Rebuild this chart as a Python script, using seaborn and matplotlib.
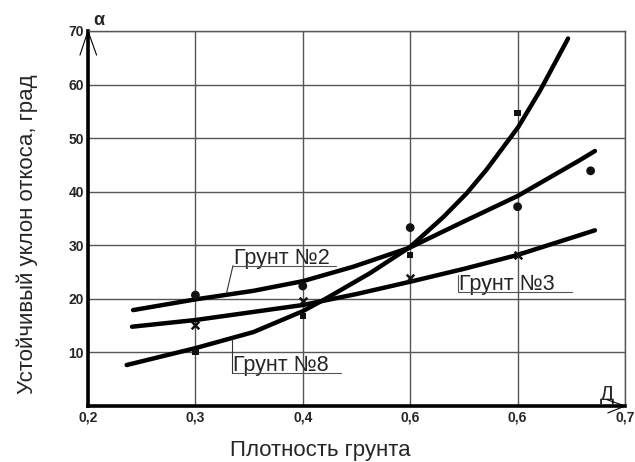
import matplotlib
matplotlib.use("Agg")
import matplotlib.pyplot as plt
import seaborn as sns
import pandas as pd

# Fitted trend curves (density -> stable slope angle, degrees)
gr2_curve_x = [0.242, 0.30, 0.354, 0.40, 0.447, 0.50, 0.5495, 0.60, 0.658, 0.672]
gr2_curve_y = [17.9, 19.9, 21.5, 23.3, 26.0, 29.6, 34.4, 39.2, 45.9, 47.6]
gr3_curve_x = [0.241, 0.30, 0.40, 0.45, 0.50, 0.55, 0.60, 0.658, 0.672]
gr3_curve_y = [14.8, 16.05, 18.85, 20.9, 23.2, 25.6, 28.2, 31.9, 32.8]
gr8_curve_x = [0.236, 0.30, 0.354, 0.40, 0.422, 0.4626, 0.50, 0.531, 0.5526,
               0.571, 0.6007, 0.621, 0.647]
gr8_curve_y = [7.65, 10.8, 13.8, 17.7, 20.1, 24.8, 29.7, 35.3, 39.7,
               44.1, 52.1, 58.9, 68.6]

# Measured points
gr2_pts_x = [0.3, 0.4, 0.5, 0.6, 0.668]
gr2_pts_y = [20.7, 22.4, 33.3, 37.2, 43.9]
gr3_pts_x = [0.3, 0.4, 0.5, 0.6]
gr3_pts_y = [15.1, 19.6, 23.9, 28.2]
gr8_pts_x = [0.3, 0.4, 0.5, 0.6]
gr8_pts_y = [10.1, 16.8, 28.2, 54.7]

x_ticks = [0.2, 0.3, 0.4, 0.5, 0.6, 0.7]
x_tick_labels = ["0,2", "0,3", "0,4", "0,6", "0,6", "0,7"]
y_ticks = [10, 20, 30, 40, 50, 60, 70]
y_tick_labels = ["10", "20", "30", "40", "50", "60", "70"]

sns.set_style("white")
plt.rcParams["font.family"] = ["Liberation Sans", "DejaVu Sans"]

fig = plt.figure(figsize=(6.35, 4.62), dpi=100)
ax = fig.add_axes([88 / 635, 1 - 406 / 462, (625 - 88) / 635, (406 - 31) / 462])

curves = [
    (gr2_curve_x, gr2_curve_y),
    (gr3_curve_x, gr3_curve_y),
    (gr8_curve_x, gr8_curve_y),
]
for cx, cy in curves:
    df = pd.DataFrame({"x": cx, "y": cy})
    sns.lineplot(data=df, x="x", y="y", ax=ax, color="black", lw=3.2,
                 sort=False, solid_capstyle="round", solid_joinstyle="round",
                 zorder=4)

sns.scatterplot(x=gr2_pts_x, y=gr2_pts_y, ax=ax, color="#111111", s=40,
                marker="o", edgecolor="none", zorder=5)
sns.scatterplot(x=gr3_pts_x, y=gr3_pts_y, ax=ax, color="#111111", s=30,
                marker="x", linewidth=1.8, zorder=5)
sns.scatterplot(x=gr8_pts_x, y=gr8_pts_y, ax=ax, color="#111111", s=22,
                marker="s", edgecolor="none", zorder=5)

ax.set_xlim(0.2, 0.7)
ax.set_ylim(0, 70)
ax.set_xticks(x_ticks)
ax.set_xticklabels(x_tick_labels, fontweight="bold", fontsize=10)
ax.set_yticks(y_ticks)
ax.set_yticklabels(y_tick_labels, fontweight="bold", fontsize=10)
ax.tick_params(length=0, pad=3)
ax.grid(True, color="#555555", lw=1.0)
ax.set_axisbelow(True)

for side in ("top", "right"):
    ax.spines[side].set_color("#555555")
    ax.spines[side].set_linewidth(1.0)
for side in ("left", "bottom"):
    ax.spines[side].set_color("black")
    ax.spines[side].set_linewidth(2.6)

ax.set_xlabel("Плотность грунта", fontsize=16)
ax.set_ylabel("Устойчивый уклон откоса, град", fontsize=16)
ax.xaxis.set_label_coords(0.432, -0.09)
ax.yaxis.set_label_coords(-0.0935, 0.457)

# Axis arrows and symbols
ax.plot([0.1925, 0.2, 0.208], [65.5, 70, 65.5], color="black", lw=0.8,
        clip_on=False, zorder=6)
ax.plot([0.683, 0.7, 0.684], [1.2, 0, -1.3], color="black", lw=0.8,
        clip_on=False, zorder=6)
ax.text(0.2045, 70.3, "α", fontsize=13, fontweight="bold", ha="left",
        va="bottom")
ax.text(0.677, 0.4, "Д", fontsize=15, ha="left", va="bottom")

# Curve captions with leader lines
ax.text(0.336, 26.5, "Грунт №2", fontsize=15.5, ha="left", va="baseline",
        zorder=6)
ax.plot([0.335, 0.431], [26.2, 26.2], color="#555555", lw=0.8, zorder=6)
ax.plot([0.335, 0.329], [26.2, 21.1], color="#333333", lw=0.8, zorder=6)

ax.text(0.5455, 21.6, "Грунт №3", fontsize=15.5, ha="left", va="baseline",
        zorder=6)
ax.plot([0.5445, 0.651], [21.3, 21.3], color="#555555", lw=0.8, zorder=6)
ax.plot([0.5445, 0.5445], [21.3, 24.4], color="#555555", lw=0.8, zorder=6)

ax.text(0.335, 6.5, "Грунт №8", fontsize=15.5, ha="left", va="baseline",
        zorder=6)
ax.plot([0.334, 0.436], [6.1, 6.1], color="#555555", lw=0.8, zorder=6)
ax.plot([0.334, 0.334], [6.1, 12.6], color="#333333", lw=0.8, zorder=6)

fig.savefig("out.png", dpi=100)
